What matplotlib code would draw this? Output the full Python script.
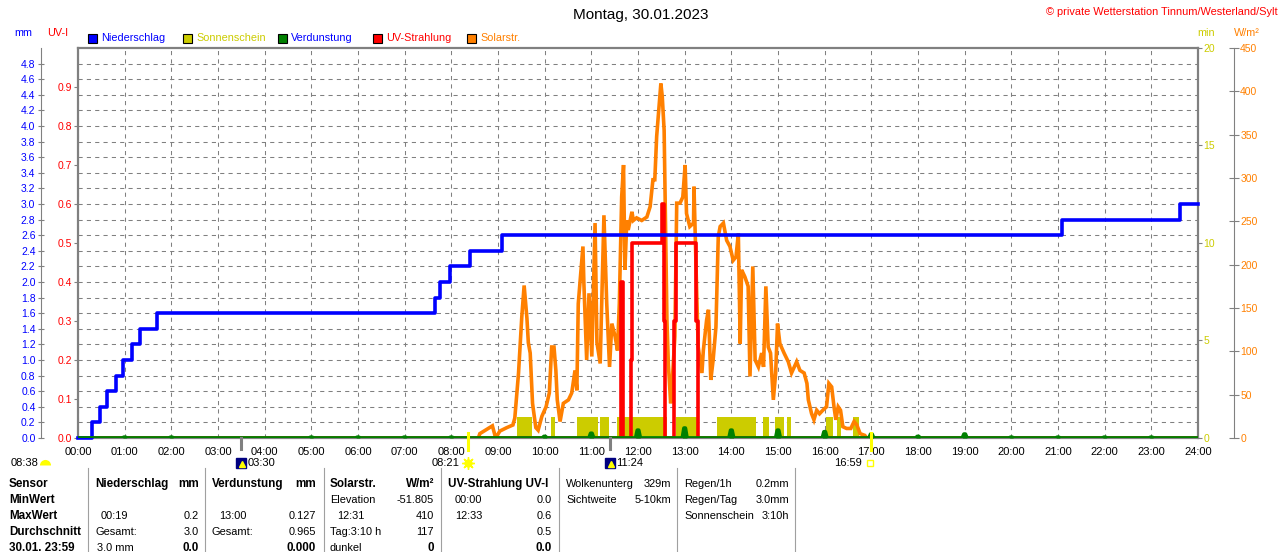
import numpy as np
import matplotlib
matplotlib.use("Agg")
import matplotlib.pyplot as plt
from matplotlib.lines import Line2D
from matplotlib.patches import Rectangle
from matplotlib.transforms import blended_transform_factory, offset_copy

plt.rcParams['font.family'] = ['Liberation Sans', 'DejaVu Sans']
plt.rcParams['font.size'] = 7.5

BLUE = '#0000FF'
OLIVE = '#CCCC00'
GREEN = '#008000'
RED = '#FF0000'
ORANGE = '#FF8000'
GRAY = '#808080'
YELLOW = '#FFFF00'
NAVY = '#000080'

# DATA
hours = list(range(25))
hour_labels = [f"{h:02d}:00" for h in hours]

# Niederschlag (cumulative mm), step changes
rain_t = [0.0, 0.30, 0.47, 0.63, 0.81, 0.97, 1.16, 1.33, 1.69,
          7.65, 7.76, 7.97, 8.40, 9.08, 21.09, 23.61, 24.0]
rain_mm = [0.0, 0.2, 0.4, 0.6, 0.8, 1.0, 1.2, 1.4, 1.6,
           1.8, 2.0, 2.2, 2.4, 2.6, 2.8, 3.0, 3.0]

# UV-Strahlung (UV-I), step changes
uv_t = [0.0, 11.63, 11.67, 11.85, 11.87, 12.51, 12.55, 12.57,
        12.78, 12.81, 13.24, 13.29, 24.0]
uv_i = [0.0, 0.4, 0.0, 0.2, 0.5, 0.6, 0.3, 0.0,
        0.3, 0.5, 0.3, 0.0, 0.0]

# Sonnenschein (min), bar intervals
sun_start = [9.40, 10.14, 10.70, 11.19, 11.56, 12.81, 13.69, 14.68,
             14.94, 15.19, 16.03, 16.26, 16.61]
sun_end = [9.72, 10.22, 11.14, 11.38, 12.62, 13.26, 14.53, 14.81,
           15.13, 15.27, 16.17, 16.34, 16.74]
sun_min = [1.1, 1.1, 1.1, 1.1, 1.1, 1.1, 1.1, 1.1, 1.1, 1.1, 1.1, 1.1, 1.1]

# Verdunstung (mm per hour)
evap_h = [1, 2, 5, 6, 7, 8, 10, 11, 12, 13, 14, 15, 16, 17, 18, 19, 20, 21, 22, 23]
evap_mm = [0.01, 0.01, 0.01, 0.01, 0.01, 0.01, 0.02, 0.06, 0.10, 0.127,
           0.10, 0.10, 0.08, 0.05, 0.02, 0.05, 0.01, 0.01, 0.01, 0.01]

# Solarstrahlung (W/m2)
solar_t = [8.58, 8.61, 8.76, 8.88, 8.95, 9.04, 9.19, 9.32, 9.36, 9.44, 9.51, 9.56,
           9.62, 9.65, 9.69, 9.74, 9.81, 9.86, 9.94, 10.03, 10.10, 10.15, 10.20,
           10.24, 10.27, 10.33, 10.40, 10.51, 10.58, 10.65, 10.69, 10.72, 10.82,
           10.84, 10.90, 10.95, 11.01, 11.08, 11.12, 11.19, 11.27, 11.33, 11.39,
           11.44, 11.51, 11.56, 11.60, 11.65, 11.69, 11.72, 11.76, 11.79, 11.87,
           11.90, 11.97, 12.08, 12.19, 12.26, 12.32, 12.36, 12.40, 12.45, 12.49,
           12.52, 12.56, 12.58, 12.62, 12.65, 12.70, 12.74, 12.79, 12.83, 12.90,
           12.96, 13.01, 13.04, 13.11, 13.19, 13.20, 13.26, 13.29, 13.37, 13.40,
           13.47, 13.51, 13.56, 13.61, 13.67, 13.72, 13.76, 13.83, 13.90, 13.97,
           14.04, 14.10, 14.15, 14.19, 14.22, 14.29, 14.36, 14.40, 14.46, 14.51,
           14.58, 14.65, 14.69, 14.74, 14.79, 14.84, 14.90, 14.95, 14.99, 15.04,
           15.13, 15.22, 15.29, 15.40, 15.47, 15.56, 15.62, 15.65, 15.72, 15.77,
           15.83, 15.89, 15.96, 16.04, 16.09, 16.15, 16.20, 16.24, 16.29, 16.34,
           16.39, 16.47, 16.56, 16.63, 16.69, 16.76, 16.86, 16.90]
solar_w = [0, 5, 10, 14, 0, 8, 12, 15, 23, 75, 140, 176,
           138, 110, 98, 40, 12, 9, 25, 36, 52, 105, 105,
           78, 44, 19, 40, 44, 52, 78, 55, 155, 221,
           179, 90, 167, 94, 248, 110, 86, 257, 155, 82,
           132, 117, 101, 155, 278, 315, 194, 251, 240, 261,
           251, 254, 251, 255, 267, 298, 298, 348, 382, 409,
           394, 355, 282, 136, 86, 40, 71, 117, 271, 271,
           278, 315, 259, 244, 248, 290, 163, 105, 75, 101,
           136, 148, 67, 90, 128, 232, 244, 248, 228, 221,
           205, 209, 236, 109, 194, 186, 175, 71, 198, 90,
           82, 98, 82, 175, 105, 98, 44, 75, 132, 109,
           98, 88, 75, 88, 78, 75, 63, 44, 28, 21,
           32, 28, 32, 36, 63, 59, 36, 21, 36, 32,
           13, 11, 11, 19, 15, 5, 3, 0]

# sun / moon events
moon_t = [3.5, 11.4]
moon_lbl = ["03:30", "11:24"]
sun_t = [8.35, 16.983]
sun_lbl = ["08:21", "16:59"]

W, H = 1280, 552


def fx(px):
    return px / W


def fy(py):
    return 1 - py / H


fig = plt.figure(figsize=(12.8, 5.52), dpi=100)
ax = fig.add_axes([fx(78), fy(438), 1120 / W, 390 / H])
ax.set_xlim(0, 24)
ax.set_ylim(0, 5)
ax.set_xticks(hours)
ax.set_xticklabels(hour_labels)
mm_ticks = np.round(np.arange(0, 4.81, 0.2), 1)
ax.set_yticks(mm_ticks)
ax.set_yticklabels([f"{v:.1f}" for v in mm_ticks])
ax.grid(True, color=GRAY, linestyle=(0, (4, 4)), linewidth=0.75)
ax.tick_params(axis='x', length=0, pad=6.5, labelsize=8)
ax.tick_params(axis='y', direction='inout', length=5, color=GRAY,
               labelcolor=BLUE, pad=1.5, labelsize=7.5)
ax.spines['left'].set_position(('outward', 26.6))
ax.spines['left'].set_color(GRAY)
for s in ['top', 'right', 'bottom']:
    ax.spines[s].set_color(GRAY)
    ax.spines[s].set_linewidth(1.6)

# Sonnenschein
ax_min = ax.twinx()
ax_min.set_ylim(0, 20)
ax_min.set_yticks([0, 5, 10, 15, 20])
ax_min.tick_params(axis='y', direction='out', length=3, color=GRAY,
                   labelcolor=OLIVE, pad=1, labelsize=7.5)
for s in ax_min.spines.values():
    s.set_visible(False)
widths = [e - s for s, e in zip(sun_start, sun_end)]
ax_min.bar(sun_start, sun_min, width=widths, align='edge', color=OLIVE, lw=0)

# Solarstrahlung
ax_w = ax.twinx()
ax_w.set_ylim(0, 450)
ax_w.set_yticks(range(0, 451, 50))
ax_w.tick_params(axis='y', direction='inout', length=7, color=GRAY,
                 labelcolor=ORANGE, pad=1, labelsize=7.5)
for k, s in ax_w.spines.items():
    s.set_visible(k == 'right')
ax_w.spines['right'].set_position(('outward', 25.9))
ax_w.spines['right'].set_color(GRAY)
ax_w.plot(solar_t, solar_w, color=ORANGE, lw=2.6, solid_joinstyle='miter')

# UV-Strahlung
ax_uv = ax.twinx()
ax_uv.yaxis.tick_left()
ax_uv.set_ylim(0, 1.0)
uv_ticks = np.round(np.arange(0, 0.91, 0.1), 1)
ax_uv.set_yticks(uv_ticks)
ax_uv.set_yticklabels([f"{v:.1f}" for v in uv_ticks])
ax_uv.tick_params(axis='y', direction='out', length=3, color=GRAY,
                  labelcolor=RED, pad=1, labelsize=7.5)
for k, s in ax_uv.spines.items():
    s.set_visible(k == 'left')
ax_uv.spines['left'].set_color(GRAY)
ax_uv.spines['left'].set_linewidth(1.6)
ax_uv.plot(uv_t, uv_i, color=RED, lw=2.6, drawstyle='steps-post')

# Niederschlag + Verdunstung
ax_top = ax.twinx()
ax_top.set_ylim(0, 5)
ax_top.set_yticks([])
for s in ax_top.spines.values():
    s.set_visible(False)
ax_top.plot(rain_t, rain_mm, color=BLUE, lw=2.6, drawstyle='steps-post', clip_on=False)

ex, ey = [0.0], [0.0]
for h, v in zip(evap_h, evap_mm):
    ex += [h - 0.05, h - 0.015, h + 0.015, h + 0.05]
    ey += [0.0, v, v, 0.0]
ex.append(24.0)
ey.append(0.0)
ax_top.fill_between(ex, 0, ey, color=GREEN, lw=0)
ax_top.plot(ex, ey, color=GREEN, lw=2.7)

# sun / moon markers below the axis
trans = blended_transform_factory(ax_top.transData, ax_top.transAxes)


def off(dx, dy):
    return offset_copy(trans, fig=fig, x=dx, y=dy, units='dots')


for t, lbl in zip(moon_t, moon_lbl):
    ax_top.plot([t, t], [0.0, -0.028], color=GRAY, lw=2.2, transform=trans, clip_on=False)
    ax_top.plot([t], [0], marker='s', ms=7.5, color=NAVY, transform=off(0, -25), clip_on=False)
    ax_top.plot([t], [0], marker='^', ms=4, color=YELLOW, transform=off(1, -26), clip_on=False)
    ax_top.annotate(lbl, xy=(t, 0), xycoords=trans, xytext=(4.5, -18), textcoords='offset points',
                    ha='left', va='center', fontsize=8, annotation_clip=False)
for t, lbl in zip(sun_t, sun_lbl):
    ax_top.plot([t, t], [0.012, -0.032], color=YELLOW, lw=2.2, transform=trans, clip_on=False)
    ax_top.annotate(lbl, xy=(t, 0), xycoords=trans, xytext=(-6, -18), textcoords='offset points',
                    ha='right', va='center', fontsize=8, annotation_clip=False)
ax_top.plot([sun_t[0]], [0], marker=(8, 2, 0), ms=9, color=YELLOW, transform=off(0, -25), clip_on=False)
ax_top.plot([sun_t[0]], [0], marker='o', ms=5, color=YELLOW, transform=off(0, -25), clip_on=False)
ax_top.plot([sun_t[1]], [0], marker='s', ms=4.5, mfc='none', mec=YELLOW, mew=1,
            transform=off(-1, -25), clip_on=False)

fig.text(fx(11), fy(463), "08:38", fontsize=8, va='center')
fig.add_artist(Line2D([fx(45)], [fy(465)], marker='o', ms=8, fillstyle='top', color=YELLOW,
                      mew=0, transform=fig.transFigure))

# header texts
fig.text(fx(641), fy(15), "Montag, 30.01.2023", fontsize=11, ha='center', va='center')
fig.text(fx(1278), fy(12), "\u00a9 private Wetterstation Tinnum/Westerland/Sylt", fontsize=7.9,
         color=RED, ha='right', va='center')
fig.text(fx(14), fy(33), "mm", color=BLUE, fontsize=7.8, va='center')
fig.text(fx(47), fy(33), "UV-I", color=RED, fontsize=7.8, va='center')
fig.text(fx(1197), fy(33), "min", color=OLIVE, fontsize=7.8, va='center')
fig.text(fx(1234), fy(33), "W/m\u00b2", color=ORANGE, fontsize=7.8, va='center')

legend_items = [(88, "Niederschlag", BLUE, BLUE),
                (183, "Sonnenschein", OLIVE, OLIVE),
                (278, "Verdunstung", GREEN, BLUE),
                (373, "UV-Strahlung", RED, RED),
                (467, "Solarstr.", ORANGE, ORANGE)]
for x, lbl, fc, tc in legend_items:
    fig.add_artist(Rectangle((fx(x), fy(43)), 9 / W, 9 / H, transform=fig.transFigure,
                             facecolor=fc, edgecolor='black', lw=0.8))
    fig.text(fx(x + 13), fy(38), lbl, color=tc, fontsize=7.8, va='center')

# table
for x in [88, 205, 323.5, 441, 558.5, 677, 795]:
    fig.add_artist(Line2D([fx(x), fx(x)], [fy(468), fy(552)], color='#A0A0A0', lw=0.8,
                          transform=fig.transFigure))

rows = [484, 500, 516, 532, 548]
table = [
    (9, 0, "Sensor", 'left', True), (95, 0, "Niederschlag", 'left', True),
    (199, 0, "mm", 'right', True), (212, 0, "Verdunstung", 'left', True),
    (316, 0, "mm", 'right', True), (330, 0, "Solarstr.", 'left', True),
    (434, 0, "W/m\u00b2", 'right', True), (448, 0, "UV-Strahlung UV-I", 'left', True),
    (566, 0, "Wolkenunterg", 'left', False), (671, 0, "329m", 'right', False),
    (684, 0, "Regen/1h", 'left', False), (789, 0, "0.2mm", 'right', False),
    (9, 1, "MinWert", 'left', True), (330, 1, "Elevation", 'left', False),
    (434, 1, "-51.805", 'right', False), (455, 1, "00:00", 'left', False),
    (552, 1, "0.0", 'right', False), (566, 1, "Sichtweite", 'left', False),
    (671, 1, "5-10km", 'right', False), (684, 1, "Regen/Tag", 'left', False),
    (789, 1, "3.0mm", 'right', False),
    (9, 2, "MaxWert", 'left', True), (101, 2, "00:19", 'left', False),
    (199, 2, "0.2", 'right', False), (219, 2, "13:00", 'left', False),
    (316, 2, "0.127", 'right', False), (337, 2, "12:31", 'left', False),
    (434, 2, "410", 'right', False), (455, 2, "12:33", 'left', False),
    (552, 2, "0.6", 'right', False), (684, 2, "Sonnenschein", 'left', False),
    (789, 2, "3:10h", 'right', False),
    (9, 3, "Durchschnitt", 'left', True), (95, 3, "Gesamt:", 'left', False),
    (199, 3, "3.0", 'right', False), (212, 3, "Gesamt:", 'left', False),
    (316, 3, "0.965", 'right', False), (330, 3, "Tag:3:10 h", 'left', False),
    (434, 3, "117", 'right', False), (552, 3, "0.5", 'right', False),
    (9, 4, "30.01. 23:59", 'left', True), (97, 4, "3.0 mm", 'left', False),
    (199, 4, "0.0", 'right', True), (316, 4, "0.000", 'right', True),
    (330, 4, "dunkel", 'left', False), (434, 4, "0", 'right', True),
    (552, 4, "0.0", 'right', True),
]
for x, r, s, ha, bold in table:
    fig.text(fx(x), fy(rows[r]), s, ha=ha, va='center',
             fontsize=8.4 if bold else 7.9, fontweight='bold' if bold else 'normal')

fig.savefig("out.png", dpi=100)
